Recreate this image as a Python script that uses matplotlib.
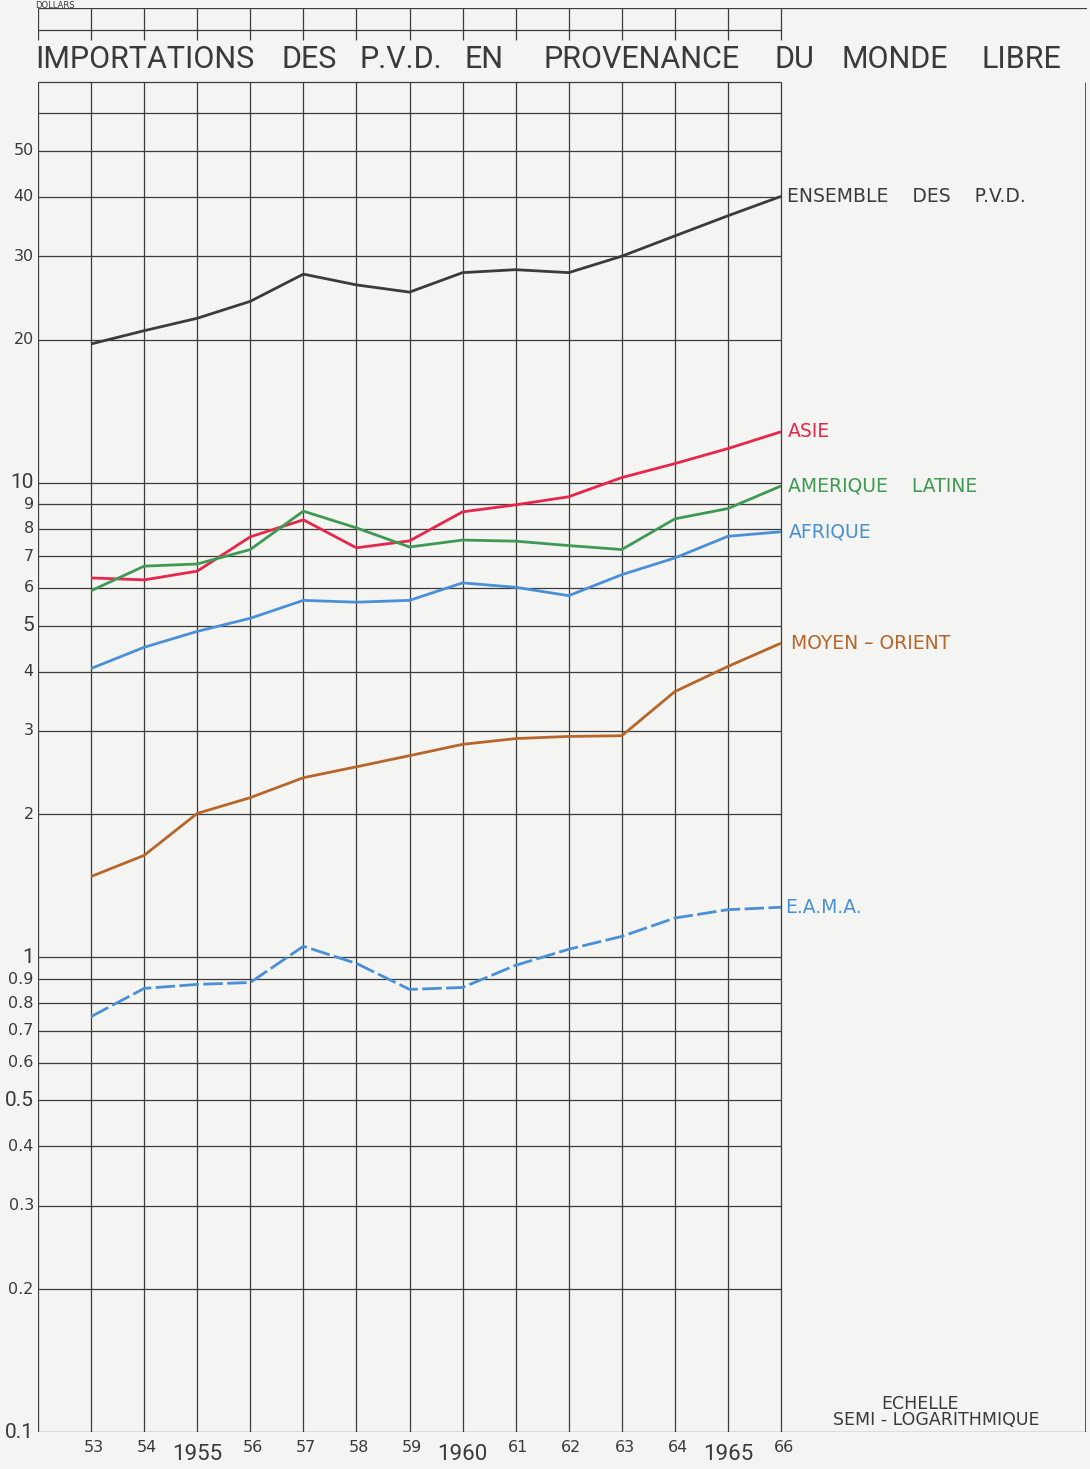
import numpy as np
import matplotlib.pyplot as plt
from matplotlib.transforms import blended_transform_factory

# annees et series (milliards de dollars)
years = [53, 54, 55, 56, 57, 58, 59, 60, 61, 62, 63, 64, 65, 66]
ensemble = [19.6, 20.9, 22.2, 24.1, 27.5, 26.1, 25.2, 27.7, 28.1, 27.7, 30.0, 33.1, 36.5, 40.1]
asie = [6.30, 6.24, 6.51, 7.69, 8.35, 7.29, 7.54, 8.68, 8.98, 9.34, 10.25, 10.97, 11.8, 12.8]
amerique = [5.92, 6.67, 6.74, 7.23, 8.71, 8.03, 7.32, 7.57, 7.53, 7.37, 7.23, 8.39, 8.82, 9.84]
afrique = [4.06, 4.50, 4.86, 5.18, 5.65, 5.60, 5.65, 6.15, 6.02, 5.78, 6.40, 6.94, 7.71, 7.88]
moyen_orient = [1.48, 1.64, 2.01, 2.17, 2.39, 2.52, 2.66, 2.81, 2.89, 2.92, 2.93, 3.63, 4.10, 4.59]
eama = [0.75, 0.86, 0.877, 0.885, 1.055, 0.971, 0.856, 0.864, 0.962, 1.04, 1.107, 1.21, 1.26, 1.275]

year_labels = ['53', '54', '1955', '56', '57', '58', '59', '1960', '61', '62', '63', '64', '1965', '66']
ytick_vals = [0.1, 0.2, 0.3, 0.4, 0.5, 0.6, 0.7, 0.8, 0.9, 1, 2, 3, 4, 5, 6, 7, 8, 9, 10, 20, 30, 40, 50]
ytick_labels = ['0.1', '0.2', '0.3', '0.4', '0.5', '0.6', '0.7', '0.8', '0.9', '1',
                '2', '3', '4', '5', '6', '7', '8', '9', '10', '20', '30', '40', '50']
big_ticks = ['0.1', '0.5', '1', '5', '10']

title_words = ['IMPORTATIONS', 'DES', 'P.V.D.', 'EN', 'PROVENANCE', 'DU', 'MONDE', 'LIBRE']
title_x = [145, 309, 401, 484, 642, 794, 895, 1021]

W, H = 1090, 1469
BG = '#f4f4f2'
GRID = '#3c3c3c'
TXT = '#3a3a3a'

fig = plt.figure(figsize=(W / 100, H / 100), dpi=100, facecolor=BG)
ax = fig.add_axes([38 / W, (H - 1432) / H, (1087 - 38) / W, (1432 - 8) / H])
ax.set_facecolor(BG)
ax.set_yscale('log')
x0, x1 = 52, 66
xmax = 66 + (1087 - 781) / (743 / 14)
ax.set_xlim(x0, xmax)
ax.set_ylim(0.1, 100)
for s in ax.spines.values():
    s.set_visible(False)
ax.set_xticks([])
ax.set_yticks([])
ax.minorticks_off()

# grille (coupee par le bandeau du titre)
hvals = [0.1, 0.2, 0.3, 0.4, 0.5, 0.6, 0.7, 0.8, 0.9,
         1, 2, 3, 4, 5, 6, 7, 8, 9, 10, 20, 30, 40, 50, 60, 70, 90]
for v in hvals:
    right = xmax if v == 0.1 else x1
    ax.hlines(v, x0, right, color=GRID, lw=0.9, zorder=1)
ax.hlines(100, x0, xmax, color=GRID, lw=0.9, zorder=1)
for x in range(x0, x1 + 1):
    ax.vlines(x, 0.1, 70, color=GRID, lw=0.9, zorder=1)
    ax.vlines(x, 85.5, 100, color=GRID, lw=0.9, zorder=1)
ax.vlines(xmax - 0.03, 0.1, 70, color=GRID, lw=0.6, zorder=1)

# courbes
series = [
    (ensemble, '#3b3b3b', '-', 'ENSEMBLE    DES    P.V.D.', 0.12),
    (asie, '#e8264a', '-', 'ASIE', 0.12),
    (amerique, '#3e9a52', '-', 'AMERIQUE    LATINE', 0.14),
    (afrique, '#4a90d6', '-', 'AFRIQUE', 0.14),
    (moyen_orient, '#b8652a', '-', 'MOYEN \u2013 ORIENT', 0.18),
    (eama, '#4a90d6', (0, (7, 1.6)), 'E.A.M.A.', 0.07),
]
for vals, col, ls, lab, dx in series:
    ax.plot(years, vals, color=col, lw=2.0, ls=ls, zorder=3, solid_capstyle='butt')
    ax.text(66 + dx, vals[-1], lab, color=col, fontsize=13.5, ha='left', va='center',
            zorder=4)

# graduations de l'axe des ordonnees
for v, lab in zip(ytick_vals, ytick_labels):
    big = lab in big_ticks
    ax.text(x0 - 0.08, v, lab, color=TXT, fontsize=15 if big else 11.5,
            family='Roboto' if big else 'DejaVu Sans', ha='right', va='center')

# annees
tr = blended_transform_factory(ax.transData, fig.transFigure)
for yr, lab in zip(years, year_labels):
    big = len(lab) == 4
    ypx = 1455 if big else 1447
    ax.text(yr + (0 if big else 0.05), 1 - ypx / H, lab, transform=tr, color=TXT,
            fontsize=16 if big else 11.5, family='Roboto' if big else 'DejaVu Sans',
            ha='center', va='center')

# titre
for word, xc in zip(title_words, title_x):
    fig.text(xc / W, 1 - 59 / H, word, color=TXT, fontsize=22, family='Roboto',
             ha='center', va='center')

fig.text(35 / W, 1 - 1 / H, 'DOLLARS', color=TXT, fontsize=6, ha='left', va='top')

fig.text(920 / W, 1 - 1404 / H, 'ECHELLE', color=TXT, fontsize=12.5, ha='center', va='center')
fig.text(936 / W, 1 - 1420 / H, 'SEMI - LOGARITHMIQUE', color=TXT, fontsize=12.5,
         ha='center', va='center')

fig.savefig('out.png', dpi=100, facecolor=BG)
